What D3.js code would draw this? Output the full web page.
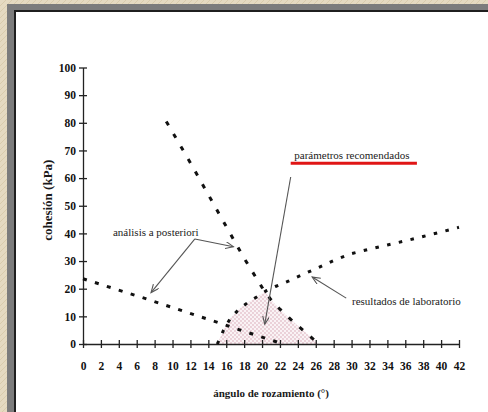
<!DOCTYPE html>
<html>
<head>
<meta charset="utf-8">
<script src="https://cdn.jsdelivr.net/npm/d3@7"></script>
<style>
  body { margin: 0; background: #e4d9bf; }
  svg { display: block; }
  .axis text { font-family: "Liberation Serif", "Times New Roman", serif; font-weight: bold; font-size: 11.5px; fill: #111; }
  .axis path, .axis line { stroke: #222; stroke-width: 1.3; }
  .note { font-family: "Liberation Serif", "Times New Roman", serif; font-size: 11px; fill: #1a1a1a; }
</style>
</head>
<body>
<div class="chart-container"></div>
<script>
// ticks
const xTicks = [0, 2, 4, 6, 8, 10, 12, 14, 16, 18, 20, 22, 24, 26, 28, 30, 32, 34, 36, 38, 40, 42];
const yTicks = [0, 10, 20, 30, 40, 50, 60, 70, 80, 90, 100];

// resultados de laboratorio
const labPhi = [15, 15.7, 16.5, 17.5, 18.5, 19.5, 20.5, 21.5, 23, 25, 26, 28, 30, 32, 34, 36, 38, 40, 42];
const labC   = [0, 5, 9.5, 12.8, 15.2, 17.2, 19.3, 20.8, 22.8, 25.8, 27.2, 30.2, 32.7, 34.3, 35.8, 37.3, 38.9, 40.5, 42.2];

// análisis a posteriori (línea suave)
const backPhi1 = [0, 7, 15.6, 17.5, 21.7, 22.3];
const backC1   = [23.6, 16.4, 7.2, 5.1, 0.7, 0];

// análisis a posteriori (línea fuerte)
const backPhi2 = [9.3, 12, 14, 16, 18, 20, 21, 22, 23, 24, 25, 25.8];
const backC2   = [80.5, 65.5, 54, 42.5, 31, 20.5, 16, 12.6, 9.5, 6.6, 3.8, 1.5];

const noteTexts = ['análisis a posteriori', 'resultados de laboratorio', 'parámetros recomendados'];
const xTitle = 'ángulo de rozamiento (°)';
const yTitle = 'cohesión (kPa)';

const svg_width = 488;
const svg_height = 412;

const svg = d3.select('.chart-container')
  .append('svg')
  .attr('width', svg_width)
  .attr('height', svg_height);

const defs = svg.append('defs');

// textura del fondo
const paper = defs.append('pattern')
  .attr('id', 'paper')
  .attr('width', 6).attr('height', 6)
  .attr('patternUnits', 'userSpaceOnUse');
paper.append('rect').attr('width', 6).attr('height', 6).attr('fill', '#e5dac1');
paper.append('path').attr('d', 'M0,6 L6,0').attr('stroke', '#d6c9a8').attr('stroke-width', 0.8);

// puntos rosas del área
const dots = defs.append('pattern')
  .attr('id', 'dots')
  .attr('width', 4).attr('height', 4)
  .attr('patternUnits', 'userSpaceOnUse');
dots.append('rect').attr('width', 4).attr('height', 4).attr('fill', '#faf3f5');
dots.append('circle').attr('cx', 1).attr('cy', 1).attr('r', 0.65).attr('fill', '#cf95a6');
dots.append('circle').attr('cx', 3).attr('cy', 3).attr('r', 0.65).attr('fill', '#cf95a6');

defs.append('marker')
  .attr('id', 'arrow')
  .attr('markerUnits', 'userSpaceOnUse')
  .attr('markerWidth', 10).attr('markerHeight', 8)
  .attr('refX', 8).attr('refY', 3.5)
  .attr('orient', 'auto')
  .append('path')
  .attr('d', 'M0,0 L8,3.5 L0,7')
  .attr('fill', 'none')
  .attr('stroke', '#555')
  .attr('stroke-width', 1.1);

// marco
svg.append('rect').attr('width', svg_width).attr('height', svg_height).attr('fill', 'url(#paper)');
svg.append('rect').attr('x', 7).attr('y', 4).attr('width', svg_width - 7).attr('height', svg_height - 4).attr('fill', '#7c7c7c');
svg.append('rect').attr('x', 14).attr('y', 10).attr('width', svg_width - 14).attr('height', svg_height - 10).attr('fill', '#1f1f1f');
svg.append('rect').attr('x', 16).attr('y', 12).attr('width', svg_width - 16).attr('height', svg_height - 12).attr('fill', '#fff');

const xScale = d3.scaleLinear([0, 42], [83, 459]);
const yScale = d3.scaleLinear([0, 100], [344, 67.5]);

// área sombreada entre la curva de laboratorio y la línea a posteriori
const labFn = d3.scaleLinear().domain(labPhi).range(labC);
const backFn = d3.scaleLinear().domain(backPhi2).range(backC2);
let lo = labPhi[0], hi = backPhi2[backPhi2.length - 1];
for (let i = 0; i < 40; i++) {
  const mid = (lo + hi) / 2;
  if (labFn(mid) < backFn(mid)) lo = mid; else hi = mid;
}
const ip = (lo + hi) / 2;
const shade = [];
labPhi.forEach((p, i) => { if (p < ip) shade.push([p, labC[i]]); });
shade.push([ip, labFn(ip)]);
backPhi2.forEach((p, i) => { if (p > ip) shade.push([p, backC2[i]]); });
shade.push([backFn.invert(0), 0]);

svg.append('path')
  .datum(shade)
  .attr('d', d3.line().x(d => xScale(d[0])).y(d => yScale(d[1])))
  .attr('fill', 'url(#dots)')
  .attr('stroke', 'none');

// ejes
const yAxis = d3.axisLeft(yScale)
  .tickValues(yTicks)
  .tickSizeInner(4)
  .tickSizeOuter(0)
  .tickPadding(3);
const yAxisDraw = svg.append('g')
  .attr('class', 'y axis')
  .attr('transform', `translate(${xScale(0)},0)`)
  .call(yAxis);
yAxisDraw.selectAll('.tick line').attr('x1', 4);

const xAxis = d3.axisBottom(xScale)
  .tickValues(xTicks)
  .tickSizeInner(4)
  .tickSizeOuter(0)
  .tickPadding(14);
const xAxisDraw = svg.append('g')
  .attr('class', 'x axis')
  .attr('transform', `translate(0,${yScale(0)})`)
  .call(xAxis);
xAxisDraw.selectAll('.tick line').attr('y1', -4);

// títulos
svg.append('text')
  .attr('class', 'note')
  .attr('x', xScale(21))
  .attr('y', 397)
  .attr('text-anchor', 'middle')
  .style('font-weight', 'bold')
  .text(xTitle);
svg.append('text')
  .attr('class', 'note')
  .attr('transform', `translate(47,${yScale(52)}) rotate(-90)`)
  .attr('dy', '0.35em')
  .attr('text-anchor', 'middle')
  .style('font-weight', 'bold')
  .style('font-size', '13px')
  .text(yTitle);

// líneas de puntos
const series = [
  [backPhi1, backC1, '4,8.5'],
  [backPhi2, backC2, '4.5,10'],
  [labPhi, labC, '3.5,8.5']
];
series.forEach(s => {
  const pts = s[0].map((p, i) => [p, s[1][i]]);
  svg.append('path')
    .datum(pts)
    .attr('d', d3.line().x(d => xScale(d[0])).y(d => yScale(d[1])))
    .attr('fill', 'none')
    .attr('stroke', '#111')
    .attr('stroke-width', 3)
    .attr('stroke-dasharray', s[2]);
});

// anotaciones
function arrow(x1, y1, x2, y2) {
  svg.append('line')
    .attr('x1', xScale(x1)).attr('y1', yScale(y1))
    .attr('x2', xScale(x2)).attr('y2', yScale(y2))
    .attr('stroke', '#555')
    .attr('stroke-width', 1.1)
    .attr('marker-end', 'url(#arrow)');
}

svg.append('text').attr('class', 'note')
  .attr('x', xScale(3.35)).attr('y', yScale(39))
  .text(noteTexts[0]);
arrow(12.5, 38, 16.8, 35.2);
arrow(12.5, 38, 7.6, 18.6);

svg.append('text').attr('class', 'note')
  .attr('x', xScale(30.05)).attr('y', yScale(14.1))
  .text(noteTexts[1]);
arrow(29.4, 16.6, 25.6, 24.2);

svg.append('text').attr('class', 'note')
  .attr('x', xScale(23.6)).attr('y', yScale(66.9))
  .text(noteTexts[2]);
svg.append('line')
  .attr('x1', xScale(23.2)).attr('x2', xScale(37.3))
  .attr('y1', yScale(65.4)).attr('y2', yScale(65.4))
  .attr('stroke', '#e01515')
  .attr('stroke-width', 3);
arrow(23.2, 60.4, 20.3, 7.2);
</script>
</body>
</html>
